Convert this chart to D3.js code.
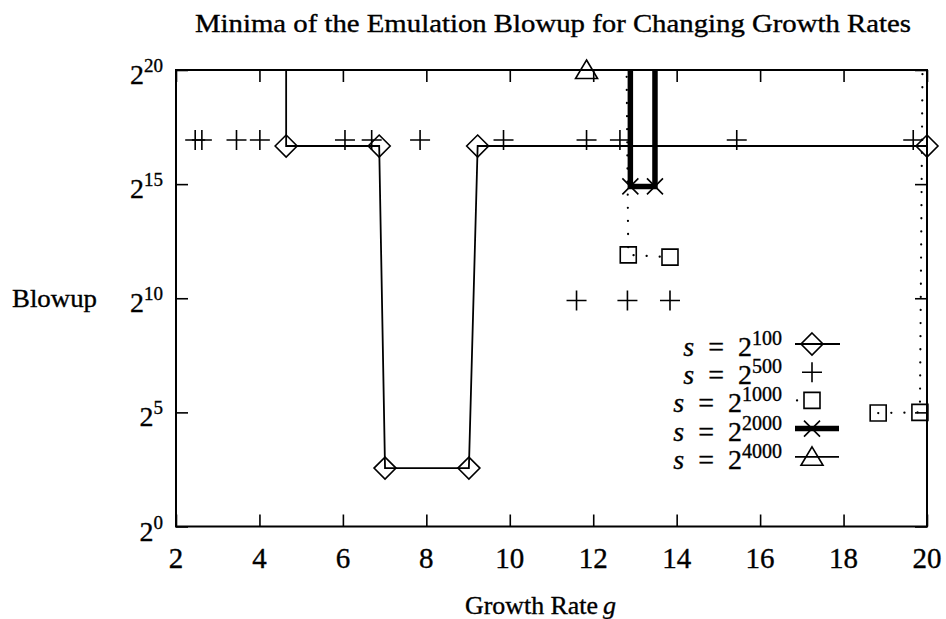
<!DOCTYPE html>
<html>
<head>
<meta charset="utf-8">
<script src="https://cdn.jsdelivr.net/npm/d3@7"></script>
<style>
  html, body { margin: 0; padding: 0; background: #fff; }
  text { font-family: "Liberation Serif", "Times New Roman", serif; fill: #000; stroke: #000; stroke-width: 0.35; }
</style>
</head>
<body>
<svg id="chart" width="946" height="619"></svg>
<script>
// ---------- data (growth rate g, log2 of blowup) ----------
const xTicks = [2, 4, 6, 8, 10, 12, 14, 16, 18, 20];
const yTicks = [0, 5, 10, 15, 20];           // exponents of 2

// s = 2^100 (diamonds, solid line); 22 = above the plotted range
const g100 = [4.64, 4.64, 6.87, 7.01, 9.02, 9.23, 20];
const v100 = [22, 16.67, 16.67, 2.56, 2.56, 16.67, 16.67];

// s = 2^500 (plus markers only)
const g500 = [2.46, 2.62, 3.45, 4.01, 6.05, 6.69, 7.85, 9.85, 11.84, 12.64, 15.44, 19.67, 11.60, 12.82, 13.84];
const v500 = [16.93, 16.93, 16.93, 16.93, 16.93, 16.93, 16.93, 16.93, 16.93, 16.93, 16.93, 16.93, 9.9, 9.9, 9.9];

// s = 2^1000 (squares, dotted line); NaN = break
const g1000 = [12.79, 12.84, 13.84, NaN, 18.83, 19.83, 19.9];
const v1000 = [22, 11.9, 11.8, NaN, 4.97, 5.0, 22];

// s = 2^2000 (crosses, thick line)
const g2000 = [12.89, 12.89, 13.48, 13.48];
const v2000 = [22, 14.9, 14.9, 22];

// s = 2^4000 (triangles, solid line)
const g4000 = [11.84];
const v4000 = [20];

const legendLabels = ["100", "500", "1000", "2000", "4000"];

// ---------- layout ----------
const svg = d3.select("#chart");
const L = 176, R = 927, T = 70, B = 526.5;
const x = d3.scaleLinear().domain([2, 20]).range([L, R]);
const y = d3.scaleLinear().domain([0, 20]).range([B, T]);

const zip = (gs, vs) => gs.map((g, i) => ({g, v: vs[i]}));
const s100 = zip(g100, v100), s500 = zip(g500, v500), s1000 = zip(g1000, v1000),
      s2000 = zip(g2000, v2000), s4000 = zip(g4000, v4000);

svg.append("defs").append("clipPath").attr("id", "clip")
  .append("rect").attr("x", L).attr("y", T).attr("width", R - L).attr("height", B - T);

// title
svg.append("text").attr("x", 553).attr("y", 32).attr("text-anchor", "middle")
  .attr("font-size", 25).attr("textLength", 716).attr("lengthAdjust", "spacingAndGlyphs")
  .text("Minima of the Emulation Blowup for Changing Growth Rates");

// axes (ticks inward on all four sides)
const tk = 12;
svg.append("g").attr("transform", `translate(0,${B})`)
  .call(d3.axisBottom(x).tickValues(xTicks).tickSizeInner(-tk).tickSizeOuter(0).tickFormat(""));
svg.append("g").attr("transform", `translate(0,${T})`)
  .call(d3.axisTop(x).tickValues(xTicks).tickSizeInner(-tk).tickSizeOuter(0).tickFormat(""));
svg.append("g").attr("transform", `translate(${L},0)`)
  .call(d3.axisLeft(y).tickValues(yTicks).tickSizeInner(-tk).tickSizeOuter(0).tickFormat(""));
svg.append("g").attr("transform", `translate(${R},0)`)
  .call(d3.axisRight(y).tickValues(yTicks).tickSizeInner(-tk).tickSizeOuter(0).tickFormat(""));
svg.selectAll(".domain").remove();
svg.selectAll(".tick line").attr("stroke", "#000").attr("stroke-width", 1.6);

// frame
svg.append("rect").attr("x", L).attr("y", T).attr("width", R - L).attr("height", B - T)
  .attr("fill", "none").attr("stroke", "#000").attr("stroke-width", 2);

// x tick labels
svg.append("g").selectAll("text").data(xTicks).join("text")
  .attr("x", d => x(d)).attr("y", 568).attr("text-anchor", "middle")
  .attr("font-size", 29).text(d => d);

// y tick labels 2^k
const yl = svg.append("g").selectAll("text").data(yTicks).join("text")
  .attr("x", 163).attr("y", d => y(d) + 14).attr("text-anchor", "end").attr("font-size", 28);
yl.append("tspan").text("2");
yl.append("tspan").attr("dy", -12).attr("font-size", 19).text(d => d);

// axis titles
svg.append("text").attr("x", 12).attr("y", 307).attr("font-size", 26)
  .attr("textLength", 85).attr("lengthAdjust", "spacingAndGlyphs").text("Blowup");
svg.append("text").attr("x", 465).attr("y", 614).attr("font-size", 26)
  .attr("textLength", 133).attr("lengthAdjust", "spacingAndGlyphs").text("Growth Rate");
svg.append("text").attr("x", 603).attr("y", 614).attr("font-size", 26)
  .attr("font-style", "italic").text("g");

// ---------- series ----------
const plot = svg.append("g").attr("clip-path", "url(#clip)");
const line = d3.line().defined(d => !isNaN(d.g)).x(d => x(d.g)).y(d => y(d.v));

plot.append("path").datum(s100).attr("d", line).attr("fill", "none")
  .attr("stroke", "#000").attr("stroke-width", 1.8);
plot.append("path").datum(s1000).attr("d", line).attr("fill", "none")
  .attr("stroke", "#000").attr("stroke-width", 2.2).attr("stroke-linecap", "round")
  .attr("stroke-dasharray", "0.1 13");
plot.append("path").datum(s2000).attr("d", line).attr("fill", "none")
  .attr("stroke", "#000").attr("stroke-width", 5.5);
plot.append("path").datum(s4000).attr("d", line).attr("fill", "none")
  .attr("stroke", "#000").attr("stroke-width", 1.8);

const inRange = arr => arr.filter(d => !isNaN(d.g) && d.v <= 20);
const mk = svg.append("g").attr("fill", "none").attr("stroke", "#000").attr("stroke-width", 1.6);

// marker shapes
const diamond = (cx, cy, r) => `M${cx},${cy - r}L${cx + r},${cy}L${cx},${cy + r}L${cx - r},${cy}Z`;
const plus = (cx, cy, r) => `M${cx - r},${cy}H${cx + r}M${cx},${cy - r}V${cy + r}`;
const square = (cx, cy, r) => `M${cx - r},${cy - r}H${cx + r}V${cy + r}H${cx - r}Z`;
const cross = (cx, cy, r) => `M${cx - r},${cy - r}L${cx + r},${cy + r}M${cx + r},${cy - r}L${cx - r},${cy + r}`;
const triangle = (cx, cy, r) => `M${cx},${cy - r}L${cx + r * 1.1},${cy + r * 0.85}H${cx - r * 1.1}Z`;

mk.selectAll(".d100").data(inRange(s100)).join("path").attr("d", d => diamond(x(d.g), y(d.v), 11));
mk.selectAll(".d500").data(inRange(s500)).join("path").attr("d", d => plus(x(d.g), y(d.v), 10));
mk.selectAll(".d1000").data(inRange(s1000)).join("path").attr("d", d => square(x(d.g), y(d.v), 8));
mk.selectAll(".d2000").data(inRange(s2000)).join("path").attr("d", d => cross(x(d.g), y(d.v), 8));
mk.selectAll(".d4000").data(inRange(s4000)).join("path").attr("d", d => triangle(x(d.g), y(d.v), 10));

// ---------- legend ----------
const lgY0 = 344, lgDy = 28.2, lgTextX = 782, lgSx = 812;
const lg = svg.append("g");
legendLabels.forEach((lab, i) => {
  const cy = lgY0 + i * lgDy;
  const t = lg.append("text").attr("x", lgTextX).attr("y", cy + 12).attr("text-anchor", "end").attr("font-size", 28);
  t.append("tspan").attr("font-style", "italic").text("s");
  t.append("tspan").text("\u2002=\u20022");
  t.append("tspan").attr("dy", -11).attr("font-size", 20).text(lab);
});
const sy = i => lgY0 + i * lgDy;
// sample lines
lg.append("line").attr("x1", 795).attr("x2", 840).attr("y1", sy(0)).attr("y2", sy(0)).attr("stroke", "#000").attr("stroke-width", 1.8);
lg.append("line").attr("x1", 797).attr("x2", 840).attr("y1", sy(2)).attr("y2", sy(2)).attr("stroke", "#000")
  .attr("stroke-width", 2.2).attr("stroke-linecap", "round").attr("stroke-dasharray", "0.1 60");
lg.append("line").attr("x1", 795).attr("x2", 839).attr("y1", sy(3)).attr("y2", sy(3)).attr("stroke", "#000").attr("stroke-width", 5.5);
lg.append("line").attr("x1", 795).attr("x2", 839).attr("y1", sy(4)).attr("y2", sy(4)).attr("stroke", "#000").attr("stroke-width", 1.8);
const lm = lg.append("g").attr("fill", "none").attr("stroke", "#000").attr("stroke-width", 1.6);
lm.append("path").attr("d", diamond(lgSx, sy(0), 11));
lm.append("path").attr("d", plus(lgSx, sy(1), 10));
lm.append("path").attr("d", square(lgSx, sy(2), 8));
lm.append("path").attr("d", cross(lgSx, sy(3), 8));
lm.append("path").attr("d", triangle(lgSx, sy(4), 10));
</script>
</body>
</html>
